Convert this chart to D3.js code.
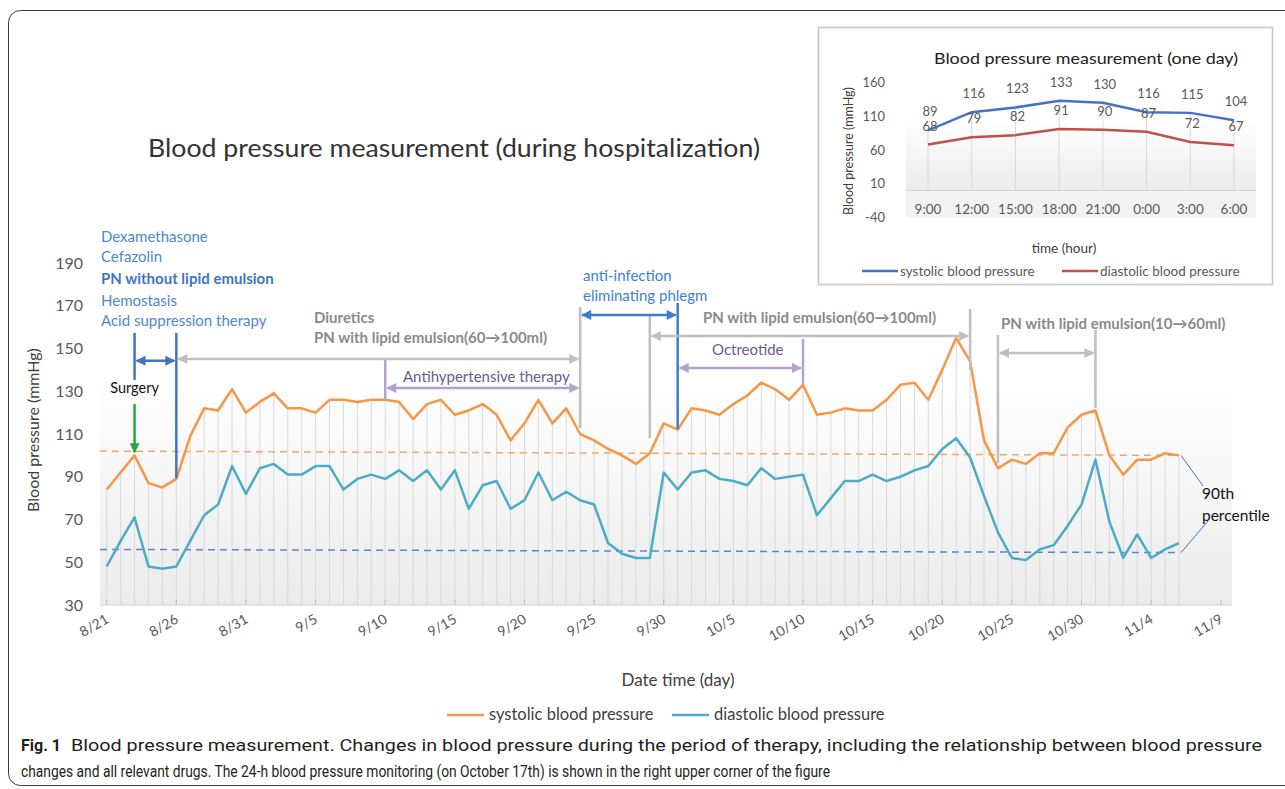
<!DOCTYPE html>
<meta charset="utf-8">
<head>
	<title>Blood pressure measurement</title>
</head>

<style>
	body { margin: 0; background: #fff; }
	svg text { font-family: Lato, "Open Sans", sans-serif; }
</style>

<body>

<svg id="chart" width="1285" height="789"></svg>

<script src="https://d3js.org/d3.v7.min.js"></script>
<script>

	// daily readings from 8/21 onwards
	var firstDay = "8/21";
	var systolic = [84, 92, 100, 87, 85, 89, 109, 122, 121, 131, 120, 125, 129, 122, 122, 120, 126, 126, 125, 126,
		126, 125, 117, 124, 126, 119, 121, 124, 119, 107, 115, 126, 115, 122, 110, 107, 103, 100, 96, 101, 115,
		112, 122, 121, 119, 124, 128, 134, 131, 126, 133, 119, 120, 122, 121, 121, 126, 133, 134, 126, 140, 155,
		144, 107, 94, 98, 96, 101, 101, 113, 119, 121, 100, 91, 98, 98, 101, 100];
	var diastolic = [48, 60, 71, 48, 47, 48, 60, 72, 77, 95, 82, 94, 96, 91, 91, 95, 95, 84, 89, 91,
		89, 93, 88, 93, 84, 93, 75, 86, 88, 75, 79, 92, 79, 83, 79, 77, 59, 54, 52, 52, 92,
		84, 92, 93, 89, 88, 86, 94, 89, 90, 91, 72, 80, 88, 88, 91, 88, 90, 93, 95, 103, 108,
		99, 81, 64, 52, 51, 56, 58, 67, 77, 98, 69, 52, 63, 52, 56, 59];
	var dateTicks = ["8/21", "8/26", "8/31", "9/5", "9/10", "9/15", "9/20", "9/25", "9/30",
		"10/5", "10/10", "10/15", "10/20", "10/25", "10/30", "11/4", "11/9"];
	var yTicks = [30, 50, 70, 90, 110, 130, 150, 170, 190];
	// 90th percentile guide lines (start, end)
	var sysP90 = [102, 100];
	var diaP90 = [56, 54.5];

	// one-day monitoring (October 17th)
	var hours = ["9:00", "12:00", "15:00", "18:00", "21:00", "0:00", "3:00", "6:00"];
	var hourSys = [89, 116, 123, 133, 130, 116, 115, 104];
	var hourDia = [68, 79, 82, 91, 90, 87, 72, 67];
	var hourTicks = [-40, 10, 60, 110, 160];

	// therapy markers: vertical bars and spans (dates + mmHg levels)
	var bars = [
		{ day: "8/23", top: 157.3, bottom: 135.3, c: "blue" },
		{ day: "8/26", top: 157.3, bottom: 89.4, c: "blue" },
		{ day: "9/24", top: 169.4, bottom: 112.8, c: "gray" },
		{ day: "9/10", top: 144.6, bottom: 125.9, c: "purple" },
		{ day: "10/1", top: 171.3, bottom: 112.3, c: "blue2" },
		{ day: "9/29", top: 165.7, bottom: 108.1, c: "gray" },
		{ day: "10/22", top: 168.5, bottom: 139.9, c: "gray" },
		{ day: "10/10", top: 154.4, bottom: 133.4, c: "purple" },
		{ day: "10/24", top: 156.3, bottom: 96.4, c: "gray" },
		{ day: "10/31", top: 158.7, bottom: 122.2, c: "gray" }
	];
	var spans = [
		{ from: "8/23", to: "8/26", at: 144.3, c: "blue" },
		{ from: "8/26", to: "9/24", at: 145.1, c: "gray" },
		{ from: "9/10", to: "9/24", at: 131.5, c: "purple" },
		{ from: "9/24", to: "10/1", at: 165.7, c: "blue2" },
		{ from: "9/29", to: "10/22", at: 155.8, c: "gray" },
		{ from: "10/1", to: "10/10", at: 140.9, c: "purple" },
		{ from: "10/24", to: "10/31", at: 147.9, c: "gray" }
	];

	var colors = { blue: "#4472c4", blue2: "#3b7dd0", gray: "#bfbfbf", purple: "#b3a2d0" };
	var sysColor = "#f79646", diaColor = "#4bacc6";

	var parseDay = function(s) { return d3.timeParse("%m/%d/%Y")(s + "/2019"); };
	var start = parseDay(firstDay);
	var rows = systolic.map(function(v, i) {
		return { date: d3.timeDay.offset(start, i), sys: v, dia: diastolic[i] };
	});

	var svg = d3.select("#chart");
	var defs = svg.append("defs");

	Object.keys(colors).concat(["green"]).forEach(function(k) {
		defs.append("marker")
			.attr("id", "arrow-" + k)
			.attr("viewBox", "0 0 10 10")
			.attr("refX", 9).attr("refY", 5)
			.attr("markerUnits", "userSpaceOnUse")
			.attr("markerWidth", 12).attr("markerHeight", 10)
			.attr("orient", "auto-start-reverse")
			.append("path")
			.attr("d", "M0,0 L10,5 L0,10 z")
			.attr("fill", k == "green" ? "#22a847" : colors[k]);
	});

	var grad = defs.append("linearGradient").attr("id", "bg").attr("x1", 0).attr("x2", 0).attr("y1", 0).attr("y2", 1);
	grad.append("stop").attr("offset", "0%").attr("stop-color", "#ffffff");
	grad.append("stop").attr("offset", "35%").attr("stop-color", "#ffffff");
	grad.append("stop").attr("offset", "100%").attr("stop-color", "#ebebeb");

	// outer frame
	svg.append("rect")
		.attr("x", 8.5).attr("y", 10.5).attr("width", 1300).attr("height", 775).attr("rx", 12)
		.attr("fill", "none").attr("stroke", "#3c3c3c").attr("stroke-width", 1);

	// ---------- main chart ----------
	var x = d3.scaleTime().domain([rows[0].date, rows[rows.length - 1].date]).range([106.7, 1179]);
	var y = d3.scaleLinear().domain([30, 190]).range([605, 263]);

	svg.append("rect")
		.attr("x", 100).attr("y", y(190)).attr("width", 1132).attr("height", y(30) - y(190))
		.attr("fill", "url(#bg)");

	svg.append("text")
		.attr("x", 148).attr("y", 157)
		.attr("textLength", 612).attr("lengthAdjust", "spacingAndGlyphs")
		.style("font-size", "25px").style("fill", "#333")
		.text("Blood pressure measurement (during hospitalization)");

	// drop lines
	svg.append("g").selectAll("line")
		.data(rows)
		.join("line")
		.attr("x1", function(d) { return x(d.date); })
		.attr("x2", function(d) { return x(d.date); })
		.attr("y1", function(d) { return y(Math.max(d.sys, d.dia)); })
		.attr("y2", y(30))
		.attr("stroke", "#d9d9d9").attr("stroke-width", 1);

	svg.append("line")
		.attr("x1", 100).attr("x2", 1232).attr("y1", y(30)).attr("y2", y(30))
		.attr("stroke", "#d0d0d0");

	// y ticks
	svg.append("g").selectAll("text")
		.data(yTicks)
		.join("text")
		.attr("x", 83).attr("y", function(d) { return y(d); })
		.attr("dy", "0.35em").attr("text-anchor", "end")
		.style("font-size", "16px").style("fill", "#595959")
		.text(function(d) { return d; });

	// x ticks
	var xt = svg.append("g").selectAll("g")
		.data(dateTicks)
		.join("g")
		.attr("transform", function(d) { return "translate(" + x(parseDay(d)) + "," + y(30) + ")"; });
	xt.append("line").attr("y1", 0).attr("y2", -5).attr("stroke", "#bfbfbf");
	xt.append("text")
		.attr("transform", "translate(3,17) rotate(-30)")
		.attr("text-anchor", "end")
		.style("font-size", "14px").style("fill", "#595959")
		.text(function(d) { return d; });

	svg.append("text")
		.attr("transform", "translate(39," + 430 + ") rotate(-90)")
		.attr("text-anchor", "middle")
		.style("font-size", "16px").style("fill", "#404040")
		.text("Blood pressure (mmHg)");

	svg.append("text")
		.attr("x", 678).attr("y", 686).attr("text-anchor", "middle")
		.style("font-size", "17px").style("fill", "#404040")
		.text("Date time (day)");

	// 90th percentile dashed lines
	var p90 = [[sysP90, "#f6a867"], [diaP90, "#5a86cf"]];
	p90.forEach(function(p) {
		svg.append("line")
			.attr("x1", 100).attr("x2", x(rows[rows.length - 1].date))
			.attr("y1", y(p[0][0])).attr("y2", y(p[0][1]))
			.attr("stroke", p[1]).attr("stroke-width", 1.5)
			.attr("stroke-dasharray", "7,5");
	});

	// series
	var line = function(key) {
		return d3.line().x(function(d) { return x(d.date); }).y(function(d) { return y(d[key]); });
	};
	svg.append("path").datum(rows).attr("d", line("sys"))
		.attr("fill", "none").attr("stroke", sysColor).attr("stroke-width", 2.5).attr("stroke-linejoin", "round");
	svg.append("path").datum(rows).attr("d", line("dia"))
		.attr("fill", "none").attr("stroke", diaColor).attr("stroke-width", 2.5).attr("stroke-linejoin", "round");

	// therapy bars and spans
	svg.append("g").selectAll("line")
		.data(bars)
		.join("line")
		.attr("x1", function(d) { return x(parseDay(d.day)); })
		.attr("x2", function(d) { return x(parseDay(d.day)); })
		.attr("y1", function(d) { return y(d.top); })
		.attr("y2", function(d) { return y(d.bottom); })
		.attr("stroke", function(d) { return colors[d.c]; })
		.attr("stroke-width", 2.5);

	svg.append("g").selectAll("line")
		.data(spans)
		.join("line")
		.attr("x1", function(d) { return x(parseDay(d.from)) + 2; })
		.attr("x2", function(d) { return x(parseDay(d.to)) - 2; })
		.attr("y1", function(d) { return y(d.at); })
		.attr("y2", function(d) { return y(d.at); })
		.attr("stroke", function(d) { return colors[d.c]; })
		.attr("stroke-width", 2.5)
		.attr("marker-start", function(d) { return "url(#arrow-" + d.c + ")"; })
		.attr("marker-end", function(d) { return "url(#arrow-" + d.c + ")"; });

	// surgery arrow
	var surgery = parseDay("8/23");
	svg.append("line")
		.attr("x1", x(surgery)).attr("x2", x(surgery))
		.attr("y1", y(124)).attr("y2", y(101.5))
		.attr("stroke", "#22a847").attr("stroke-width", 2.5)
		.attr("marker-end", "url(#arrow-green)");
	svg.append("text")
		.attr("x", x(surgery)).attr("y", 393).attr("text-anchor", "middle")
		.style("font-size", "14.5px").style("fill", "#111")
		.text("Surgery");

	// labels for treatments
	var notes = [
		{ x: 101, y: 242, t: "Dexamethasone", c: "#4f86d0", w: 400 },
		{ x: 101, y: 262, t: "Cefazolin", c: "#4f86d0", w: 400 },
		{ x: 101, y: 284, t: "PN without lipid emulsion", c: "#3f74c4", w: 700 },
		{ x: 101, y: 306, t: "Hemostasis", c: "#4f86d0", w: 400 },
		{ x: 101, y: 326, t: "Acid suppression therapy", c: "#4f86d0", w: 400 },
		{ x: 314, y: 323, t: "Diuretics", c: "#8a8a8a", w: 700 },
		{ x: 314, y: 343, t: "PN with lipid emulsion(60\u2192100ml)", c: "#8a8a8a", w: 700 },
		{ x: 403, y: 382, t: "Antihypertensive therapy", c: "#6b5a96", w: 400 },
		{ x: 583, y: 281, t: "anti-infection", c: "#3b82d6", w: 400 },
		{ x: 583, y: 301, t: "eliminating phlegm", c: "#3b82d6", w: 400 },
		{ x: 703, y: 323, t: "PN with lipid emulsion(60\u2192100ml)", c: "#8a8a8a", w: 700 },
		{ x: 712, y: 355, t: "Octreotide", c: "#6b5a96", w: 400 },
		{ x: 1001, y: 329, t: "PN with lipid emulsion(10\u219260ml)", c: "#8a8a8a", w: 700 }
	];
	svg.append("g").selectAll("text")
		.data(notes)
		.join("text")
		.attr("x", function(d) { return d.x; })
		.attr("y", function(d) { return d.y; })
		.style("font-size", "15px")
		.style("font-weight", function(d) { return d.w; })
		.style("fill", function(d) { return d.c; })
		.text(function(d) { return d.t; });

	// 90th percentile callout
	var lastDay = rows[rows.length - 1].date;
	svg.append("line")
		.attr("x1", x(lastDay) + 2).attr("y1", y(sysP90[1])).attr("x2", 1203).attr("y2", 486)
		.attr("stroke", "#4472c4").attr("stroke-width", 1);
	svg.append("line")
		.attr("x1", x(lastDay) + 2).attr("y1", y(diaP90[1])).attr("x2", 1208).attr("y2", 521)
		.attr("stroke", "#4472c4").attr("stroke-width", 1);
	svg.append("text").attr("x", 1202).attr("y", 499)
		.style("font-size", "15.5px").style("fill", "#111").text("90th");
	svg.append("text").attr("x", 1202).attr("y", 521)
		.style("font-size", "15.5px").style("fill", "#111").text("percentile");

	// legend
	var legend = [["systolic blood pressure", sysColor, 447], ["diastolic blood pressure", diaColor, 672]];
	legend.forEach(function(l) {
		svg.append("line").attr("x1", l[2]).attr("x2", l[2] + 37).attr("y1", 715).attr("y2", 715)
			.attr("stroke", l[1]).attr("stroke-width", 2.5);
		svg.append("text").attr("x", l[2] + 42).attr("y", 720)
			.style("font-size", "16.5px").style("fill", "#404040").text(l[0]);
	});

	// caption
	svg.append("text").attr("x", 21).attr("y", 751)
		.style("font-family", "Roboto").style("font-size", "16px").style("font-weight", 700).style("fill", "#231f20")
		.text("Fig. 1");
	svg.append("text").attr("x", 71).attr("y", 751).attr("textLength", 1191).attr("lengthAdjust", "spacingAndGlyphs")
		.style("font-family", "Roboto").style("font-size", "16px").style("fill", "#231f20")
		.text("Blood pressure measurement. Changes in blood pressure during the period of therapy, including the relationship between blood pressure");
	svg.append("text").attr("x", 21).attr("y", 777).attr("textLength", 809).attr("lengthAdjust", "spacingAndGlyphs")
		.style("font-family", "Roboto").style("font-size", "16px").style("fill", "#231f20")
		.text("changes and all relevant drugs. The 24-h blood pressure monitoring (on October 17th) is shown in the right upper corner of the figure");

	// ---------- inset: one day ----------
	var inset = svg.append("g");
	inset.append("rect")
		.attr("x", 818.5).attr("y", 27.5).attr("width", 454).attr("height", 257)
		.attr("fill", "#fff").attr("stroke", "#c4c4c4").attr("stroke-width", 1.5);

	var xi = d3.scalePoint().domain(hours).range([928, 1234]);
	var yi = d3.scaleLinear().domain([-40, 160]).range([217.5, 82.5]);

	inset.append("rect")
		.attr("x", 906).attr("y", yi(160)).attr("width", 350).attr("height", yi(0) - yi(160))
		.attr("fill", "url(#bg)");
	inset.append("rect")
		.attr("x", 906).attr("y", yi(0)).attr("width", 350).attr("height", yi(-40) - yi(0))
		.attr("fill", "#f2f2f2");
	inset.append("line")
		.attr("x1", 906).attr("x2", 1256).attr("y1", yi(0)).attr("y2", yi(0))
		.attr("stroke", "#d4d4d4");

	inset.append("text")
		.attr("x", 934).attr("y", 64).attr("textLength", 304).attr("lengthAdjust", "spacingAndGlyphs")
		.style("font-size", "16px").style("fill", "#222")
		.text("Blood pressure measurement  (one day)");

	inset.selectAll(".hy")
		.data(hourTicks)
		.join("text")
		.attr("class", "hy")
		.attr("x", 885).attr("y", function(d) { return yi(d); })
		.attr("dy", "0.35em").attr("text-anchor", "end")
		.style("font-size", "13px").style("fill", "#595959")
		.text(function(d) { return d; });

	inset.selectAll(".hx")
		.data(hours)
		.join("text")
		.attr("class", "hx")
		.attr("x", function(d) { return xi(d); })
		.attr("y", 214).attr("text-anchor", "middle")
		.style("font-size", "13.5px").style("fill", "#595959")
		.text(function(d) { return d; });

	inset.selectAll(".drop")
		.data(hours)
		.join("line")
		.attr("class", "drop")
		.attr("x1", function(d) { return xi(d); })
		.attr("x2", function(d) { return xi(d); })
		.attr("y1", function(d, i) { return yi(hourSys[i]); })
		.attr("y2", yi(0))
		.attr("stroke", "#d9d9d9");

	var hline = function(vals) {
		return d3.line().x(function(d, i) { return xi(hours[i]); }).y(function(d) { return yi(d); })(vals);
	};
	inset.append("path").attr("d", hline(hourSys))
		.attr("fill", "none").attr("stroke", "#4472c4").attr("stroke-width", 2.5);
	inset.append("path").attr("d", hline(hourDia))
		.attr("fill", "none").attr("stroke", "#c0504d").attr("stroke-width", 2.5);

	[hourSys, hourDia].forEach(function(vals) {
		inset.append("g").selectAll("text")
			.data(vals)
			.join("text")
			.attr("x", function(d, i) { return xi(hours[i]) + 2; })
			.attr("y", function(d) { return yi(d) - 14; })
			.attr("text-anchor", "middle")
			.style("font-size", "13px").style("fill", "#595959")
			.text(function(d) { return d; });
	});

	inset.append("text")
		.attr("transform", "translate(853,151) rotate(-90)")
		.attr("text-anchor", "middle")
		.style("font-size", "12.5px").style("fill", "#404040")
		.text("Blood pressure (mmHg)");
	inset.append("text")
		.attr("x", 1064).attr("y", 253).attr("text-anchor", "middle")
		.style("font-size", "13.5px").style("fill", "#404040")
		.text("time (hour)");

	var hlegend = [["systolic blood pressure", "#4472c4", 862], ["diastolic blood pressure", "#c0504d", 1062]];
	hlegend.forEach(function(l) {
		inset.append("line").attr("x1", l[2]).attr("x2", l[2] + 36).attr("y1", 271).attr("y2", 271)
			.attr("stroke", l[1]).attr("stroke-width", 2.5);
		inset.append("text").attr("x", l[2] + 38).attr("y", 276)
			.style("font-size", "13.5px").style("fill", "#595959").text(l[0]);
	});

</script>
</body>
</html>
